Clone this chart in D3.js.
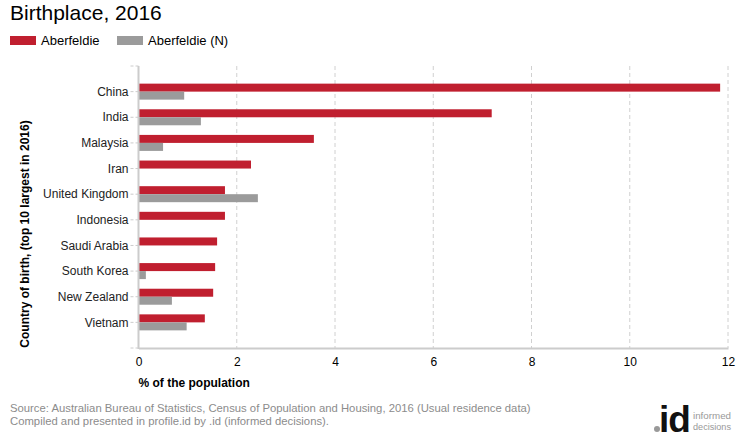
<!DOCTYPE html>
<html>
<head>
<meta charset="utf-8">
<script src="https://cdn.jsdelivr.net/npm/d3@7/dist/d3.min.js"></script>
<style>
  html, body { margin: 0; padding: 0; background: #fff; }
  svg { display: block; font-family: Arial, "Liberation Sans", sans-serif; }
</style>
</head>
<body>
<svg id="chart" width="740" height="440"></svg>
<script>
const categories = ["China", "India", "Malaysia", "Iran", "United Kingdom", "Indonesia", "Saudi Arabia", "South Korea", "New Zealand", "Vietnam"];
const aberfeldie = [11.84, 7.19, 3.57, 2.29, 1.76, 1.76, 1.60, 1.56, 1.52, 1.35];
const aberfeldieN = [0.93, 1.27, 0.50, 0, 2.43, 0, 0, 0.15, 0.68, 0.98];
const seriesNames = ["Aberfeldie", "Aberfeldie (N)"];
const xTicks = [0, 2, 4, 6, 8, 10, 12];

const colors = ["#c01f2f", "#9b9b9b"];
const svg = d3.select("#chart");

const pLeft = 138.5, pRight = 728, pTop = 66, pBottom = 348;
const x = d3.scaleLinear().domain([0, 12]).range([pLeft, pRight]);
const y = d3.scalePoint().domain(categories).range([pTop, pBottom]).padding(1);
const barH = 8;

// title
svg.append("text").attr("x", 10).attr("y", 20).attr("font-size", 21).attr("fill", "#000").text("Birthplace, 2016");

// legend
const legX = [10, 117];
seriesNames.forEach((n, i) => {
  svg.append("rect").attr("x", legX[i]).attr("y", 36).attr("width", 26).attr("height", 9).attr("fill", colors[i]);
  svg.append("text").attr("x", legX[i] + 31).attr("y", 45).attr("font-size", 13).attr("fill", "#000").text(n);
});

// gridlines
svg.append("g").selectAll("line").data(xTicks.filter(d => d !== 0)).join("line")
  .attr("x1", d => x(d)).attr("x2", d => x(d)).attr("y1", pTop).attr("y2", pBottom)
  .attr("stroke", "#d0d0d0").attr("stroke-dasharray", "4,3").attr("stroke-width", 1);

// bars
const g = svg.append("g");
g.selectAll("rect.a").data(categories).join("rect").attr("class", "a")
  .attr("x", x(0)).attr("y", d => y(d) - barH)
  .attr("width", (d, i) => x(aberfeldie[i]) - x(0)).attr("height", barH)
  .attr("fill", colors[0]);
g.selectAll("rect.b").data(categories).join("rect").attr("class", "b")
  .attr("x", x(0)).attr("y", d => y(d))
  .attr("width", (d, i) => x(aberfeldieN[i]) - x(0)).attr("height", barH)
  .attr("fill", colors[1]);

// x axis
const xAxis = svg.append("g").attr("transform", `translate(0,${pBottom})`)
  .call(d3.axisBottom(x).tickValues(xTicks).tickSize(0).tickPadding(9).tickFormat(d3.format("d")));
xAxis.select(".domain").attr("stroke", "#cccccc").attr("stroke-width", 2);
xAxis.selectAll("text").attr("font-size", 12).attr("fill", "#000").attr("font-family", "Arial, 'Liberation Sans', sans-serif");

// y axis
const yTickPos = [pTop, ...categories.map(c => y(c)), pBottom];
svg.append("g").selectAll("line").data(yTickPos).join("line")
  .attr("x1", pLeft - 8).attr("x2", pLeft).attr("y1", d => d).attr("y2", d => d)
  .attr("stroke", "#cccccc").attr("stroke-dasharray", "3,2");
svg.append("line").attr("x1", pLeft).attr("x2", pLeft).attr("y1", pTop).attr("y2", pBottom + 1)
  .attr("stroke", "#cccccc").attr("stroke-width", 2);
svg.append("g").selectAll("text").data(categories).join("text")
  .attr("x", pLeft - 10).attr("y", d => y(d)).attr("dy", "0.35em")
  .attr("text-anchor", "end").attr("font-size", 12).attr("fill", "#222").text(d => d);

// axis titles
svg.append("text").attr("x", pLeft).attr("y", 387).attr("font-size", 12).attr("font-weight", "bold").attr("fill", "#000").text("% of the population");
svg.append("text").attr("transform", "translate(29,234) rotate(-90)").attr("text-anchor", "middle")
  .attr("font-size", 12).attr("font-weight", "bold").attr("fill", "#000").text("Country of birth, (top 10 largest in 2016)");

// footer
svg.append("text").attr("x", 10).attr("y", 412).attr("font-size", 11.3).attr("fill", "#8c8c8c")
  .text("Source: Australian Bureau of Statistics, Census of Population and Housing, 2016 (Usual residence data)");
svg.append("text").attr("x", 10).attr("y", 425).attr("font-size", 11.3).attr("fill", "#8c8c8c")
  .text("Compiled and presented in profile.id by .id (informed decisions).");

// logo
const logo = svg.append("g");
logo.append("circle").attr("cx", 657).attr("cy", 429).attr("r", 3).attr("fill", "#999");
logo.append("text").attr("x", 659).attr("y", 432).attr("font-size", 37).attr("font-weight", "bold").attr("letter-spacing", -1).attr("fill", "#111").text("id");
logo.append("text").attr("x", 693).attr("y", 419).attr("font-size", 9.5).attr("fill", "#999")
  .attr("textLength", 38).attr("lengthAdjust", "spacingAndGlyphs").text("informed");
logo.append("text").attr("x", 693).attr("y", 430).attr("font-size", 9.5).attr("fill", "#999")
  .attr("textLength", 38).attr("lengthAdjust", "spacingAndGlyphs").text("decisions");
</script>
</body>
</html>
